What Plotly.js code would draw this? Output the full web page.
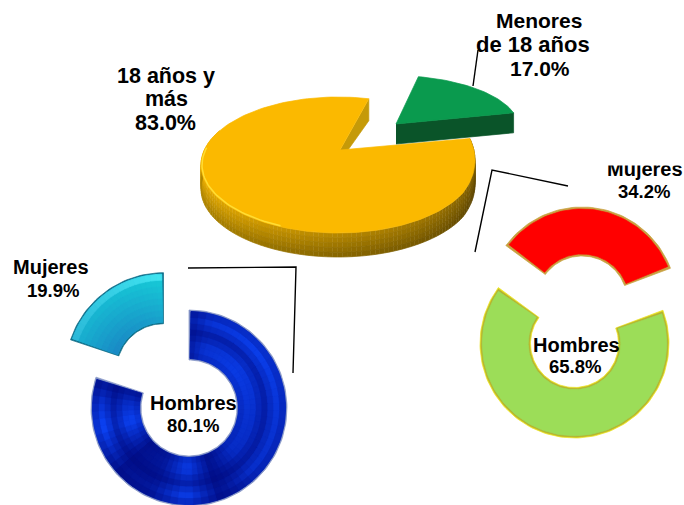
<!DOCTYPE html>
<html><head><meta charset="utf-8">
<script src="https://cdn.plot.ly/plotly-3.0.1.min.js"></script>
<style>html,body{margin:0;padding:0;background:#fff}</style></head>
<body><div id="chart" style="width:684px;height:505px"></div>
<script>
// ---- data ----
var ageCategories = ["18 años y más", "Menores de 18 años"];
var ageValues = [83.0, 17.0];
var adultCategories = ["Hombres", "Mujeres"];
var adultValues = [80.1, 19.9];
var minorCategories = ["Hombres", "Mujeres"];
var minorValues = [65.8, 34.2];

// ---- helpers ----
var traces = [];
function rad(a){return a*Math.PI/180;}
function hex(c){return [parseInt(c.substr(1,2),16),parseInt(c.substr(3,2),16),parseInt(c.substr(5,2),16)];}
function toHex(rgb){return '#'+rgb.map(function(v){var s=Math.round(v).toString(16);return s.length<2?'0'+s:s;}).join('');}
function mix(c1,c2,t){t=Math.max(0,Math.min(1,t));var a=hex(c1),b=hex(c2);
  return toHex([0,1,2].map(function(i){return a[i]+(b[i]-a[i])*t;}));}
function interp(keys,a){for(var i=0;i<keys.length-1;i++){if(a<=keys[i+1][0]){
  return keys[i][1]+(keys[i+1][1]-keys[i][1])*(a-keys[i][0])/(keys[i+1][0]-keys[i][0]);}}
  return keys[keys.length-1][1];}
function poly(x,y,color,name){traces.push({type:'scatter',mode:'lines',x:x,y:y,fill:'toself',fillcolor:color,
  line:{color:color,width:0.7},hoverinfo:'skip',showlegend:false,name:name||''});}
function stroke(x,y,color,w){traces.push({type:'scatter',mode:'lines',x:x,y:y,line:{color:color,width:w},hoverinfo:'skip',showlegend:false});}
function arc(cx,cy,rx,ry,a0,a1,n){var xs=[],ys=[];n=n||Math.max(4,Math.ceil(Math.abs(a1-a0)/2));
  for(var i=0;i<=n;i++){var a=rad(a0+(a1-a0)*i/n);xs.push(cx+rx*Math.sin(a));ys.push(cy-ry*Math.cos(a));}
  return [xs,ys];}
function ring(cx,cy,r0,r1,a0,a1,color,name){var o=arc(cx,cy,r1,r1,a0,a1),i=arc(cx,cy,r0,r0,a1,a0);
  poly(o[0].concat(i[0],[o[0][0]]),o[1].concat(i[1],[o[1][0]]),color,name);}
// inset ring: bevel keeps a constant pixel offset on all sides
function inset(cx,cy,r0,r1,a0,a1,d,color,name){var rm=(r0+r1)/2,da=d/rm*180/Math.PI;
  ring(cx,cy,r0+d,r1-d,a0+da,a1-da,color,name);}

// ---- main 3D pie ----
var m={cx:338,cy:165,rx:137,ry:68,vx:340,vy:150,depth:24,start:13};
var minorSweep=ageValues[1]*3.6;
var mEnd=m.start+minorSweep;
// slight perspective lift of the rim next to the gap
function mainArc(a0,a1,n){var p=arc(m.cx,m.cy,m.rx,m.ry,a0,a1,n);
  for(var i=0;i<p[0].length;i++){var a=a0+(a1-a0)*i/(p[0].length-1);
    p[1][i]-=8*Math.max(0,1-(a-mEnd)/40);}
  return p;}
var sideKeys=[[60,0.0],[100,0.15],[150,0.45],[185,0.62],[225,0.85],[260,1.0],[300,1.0]];
var layers=5;
var sideBase=arc(m.cx,m.cy,m.rx,m.ry,mEnd,300);
for(var a=mEnd;a<300;a+=2){
  var t=interp(sideKeys,a);
  var tp=mainArc(a,a+2,2);
  for(var l=0;l<layers;l++){
    var d0=m.depth*l/layers,d1=m.depth*(l+1)/layers;
    var ysL=tp[1].map(function(v){return v+d0;}).concat(tp[1].slice().reverse().map(function(v){return v+d1;}));
    var xsL=tp[0].concat(tp[0].slice().reverse());
    var u=l/(layers-1);
    poly(xsL,ysL,mix(mix('#6a4f00','#503b00',u),mix('#e6ab00','#b08600',u),t));
  }
}
// cut face of the main pie
var topArc=mainArc(mEnd,m.start+360);
var last=topArc[0].length-1;
poly([topArc[0][last],topArc[0][last],m.vx+8,m.vx],[topArc[1][last],topArc[1][last]+22,m.vy,m.vy],'#c59a08');
poly([m.vx].concat(topArc[0],[m.vx]),[m.vy].concat(topArc[1],[m.vy]),'#fbb900',ageCategories[0]);
var hi=arc(m.cx,m.cy,m.rx-1,m.ry-1,205,285);stroke(hi[0],hi[1],'#ffdd33',1.5);

// ---- detached green slice ----
var g={cx:392,cy:128,rx:127,ry:52.5,vx:396,vy:124,depth:20,start:12};
var gEnd=g.start+minorSweep;
var gArc=arc(g.cx,g.cy,g.rx,g.ry,g.start,gEnd);
var gLast=gArc[0].length-1;
poly([g.vx,gArc[0][gLast],gArc[0][gLast],g.vx],[g.vy,gArc[1][gLast],gArc[1][gLast]+g.depth,g.vy+g.depth],'#0a5429');
poly([g.vx].concat(gArc[0],[g.vx]),[g.vy].concat(gArc[1],[g.vy]),'#0a9a4e',ageCategories[1]);

// ---- blue donut (18 años y más) ----
var b={cx:189,cy:408,R:98,r:48};
var bSweep=adultValues[0]*3.6;
var bandKeys=[[0,0.3],[15,0.7],[50,0.85],[95,0.7],[135,0.6],[160,0.15],[182,0.85],[205,0.25],[228,0.15],[258,0.95],[275,0.6],[290,0.1]];
var radKeys=[[0,0.7],[0.25,1.0],[0.55,0.45],[0.8,1.0],[1,0.6]];
ring(b.cx,b.cy,b.r,b.R,0,bSweep,'#8090c4',adultCategories[0]);
inset(b.cx,b.cy,b.r,b.R,0,bSweep,1.5,'#0a28b8');
var nA=60,nR=8;
for(var i=0;i<nA;i++){for(var j=0;j<nR;j++){
  var a0=1.2+(bSweep-2.4)*i/nA,a1=1.2+(bSweep-2.4)*(i+1)/nA;
  var r0=b.r+1.5+(b.R-b.r-3)*j/nR,r1=b.r+1.5+(b.R-b.r-3)*(j+1)/nR;
  var tt=interp(bandKeys,(a0+a1)/2)*interp(radKeys,(j+0.5)/nR);
  ring(b.cx,b.cy,r0,r1,a0,a1,mix('#00087c','#0c48ff',tt));
}}
// ---- cyan slice ----
var c={cx:163.5,cy:370.7,R:98,r:47};
var cSweep=adultValues[1]*3.6;
ring(c.cx,c.cy,c.r,c.R,-cSweep,0,'#0f6f8a',adultCategories[1]);
inset(c.cx,c.cy,c.r,c.R,-cSweep,0,1.5,'#1aa8d0');
var cA=20,cR=8;
for(var i=0;i<cA;i++){for(var j=0;j<cR;j++){
  var a0=-cSweep+1+(cSweep-2)*i/cA,a1=-cSweep+1+(cSweep-2)*(i+1)/cA;
  var r0=c.r+1.5+(c.R-c.r-3)*j/cR,r1=c.r+1.5+(c.R-c.r-3)*(j+1)/cR;
  var u=(i+0.5)/cA,v=(j+0.5)/cR;
  var col=j==cR-1?mix('#2ab8d8','#40e4f0',u):mix('#1a86c4','#16cfd8',v*0.65+u*0.35);
  ring(c.cx,c.cy,r0,r1,a0,a1,col);
}}

// ---- green donut (menores) ----
var d={cx:574.5,cy:343.5,R:94.5,r:44};
ring(d.cx,d.cy,d.r,d.R,69.4,69.4+minorValues[0]*3.6,'#e6e020',minorCategories[0]);
inset(d.cx,d.cy,d.r,d.R,69.4,69.4+minorValues[0]*3.6,1,'#b4b030');
inset(d.cx,d.cy,d.r,d.R,69.4,69.4+minorValues[0]*3.6,2.2,'#9cdd58');
// ---- red slice ----
var e={cx:582,cy:301.5,R:94.5,r:45.5};
ring(e.cx,e.cy,e.r,e.R,-53.7,-53.7+minorValues[1]*3.6,'#c8a040',minorCategories[1]);
inset(e.cx,e.cy,e.r,e.R,-53.7,-53.7+minorValues[1]*3.6,2,'#ff0000');

// ---- labels ----
function pct(v){return v.toFixed(1)+'%';}
function label(x,y,text,size){return {x:x,y:y,xref:'x',yref:'y',text:'<b>'+text+'</b>',showarrow:false,xanchor:'center',yanchor:'middle',
  font:{family:'"Liberation Sans",Arial,sans-serif',size:size,color:'#000'}};}
var ann=[
  label(539,20,'Menores',21),
  label(533,44,'de 18 años',22),
  label(540,68,pct(ageValues[1]),21),
  label(166,76,'18 años y',21.5),
  label(166,99,'más',21.5),
  label(165,123,pct(ageValues[0]),21.5),
  label(51,267,adultCategories[1],20),
  label(53,290,pct(adultValues[1]),18.5),
  label(193,403,adultCategories[0],20),
  label(193,425,pct(adultValues[0]),18.5),
  label(576,345,minorCategories[0],20),
  label(575,366,pct(minorValues[0]),18.5),
  label(645,169,minorCategories[1],20),
  label(644,191,pct(minorValues[1]),18.5)
];
// white strip that crops the top of the right-hand "Mujeres"
ann.push({x:644,y:158,xref:'x',yref:'y',text:' ',showarrow:false,width:110,height:14,bgcolor:'#fff',borderpad:0,xanchor:'center',yanchor:'middle'});

// ---- leader lines ----
function leader(xs,ys){var path='M'+xs[0]+' '+ys[0];for(var i=1;i<xs.length;i++)path+=' L'+xs[i]+' '+ys[i];
  return {type:'path',path:path,xref:'x',yref:'y',line:{color:'#000',width:1.4},layer:'above'};}
var shapes=[leader([473,478],[86,50]),leader([188,296,293],[268,267,373]),leader([568,492,475],[186,170,252])];

Plotly.newPlot('chart',traces,{
  width:684,height:505,margin:{l:0,r:0,t:0,b:0},paper_bgcolor:'#fff',plot_bgcolor:'#fff',showlegend:false,
  xaxis:{range:[0,684],visible:false,fixedrange:true},
  yaxis:{range:[505,0],visible:false,fixedrange:true},
  annotations:ann,shapes:shapes,hovermode:false
},{displayModeBar:false,staticPlot:true});
</script></body></html>
